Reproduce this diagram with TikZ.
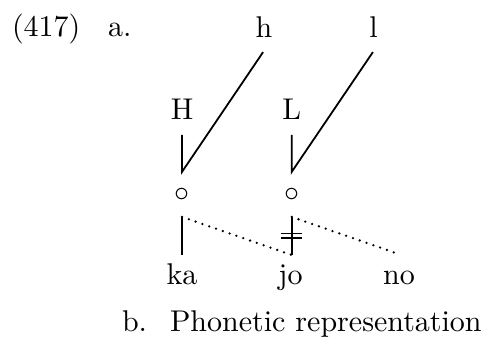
\documentclass[tikz,border=0pt]{standalone}
\begin{document}
\begin{tikzpicture}[x=0.33333pt,y=-0.33333pt,
  lbl/.style={inner sep=0pt,outer sep=0pt,anchor=base},
  assoc/.style={line width=0.6pt},
  delink/.style={line width=0.85pt,dash pattern=on 0pt off 2.4pt,line cap=round},
  bar/.style={line width=0.55pt}]
\useasboundingbox (0,0) rectangle (490,338);
% labels
\node[lbl,anchor=base west] (num) at (12,37) {(417)};
\node[lbl,anchor=base west] (ita) at (108,37) {a.};
\node[lbl] (h) at (264,38) {h};
\node[lbl] (l) at (373.5,38) {l};
\node[lbl] (H) at (182,120) {H};
\node[lbl] (L) at (291.7,120) {L};
\node[inner sep=0pt] (c1) at (182,195) {$\circ$};
\node[inner sep=0pt] (c2) at (291.7,195) {$\circ$};
\node[lbl] (ka) at (182,285) {ka};
\node[lbl] (jo) at (290.5,285) {jo};
\node[lbl] (no) at (399,285) {no};
\node[lbl,anchor=base west] (itb) at (122,332) {b.};
\node[lbl,anchor=base west] (phon) at (170,332) {Phonetic representation};
% associations upper tier
\coordinate (Htop) at ([yshift=-5pt]H.base);
\coordinate (Hbot) at ([yshift=-17.3pt]H.base);
\coordinate (Ltop) at ([yshift=-5pt]L.base);
\coordinate (Lbot) at ([yshift=-17.3pt]L.base);
\coordinate (hend) at ([xshift=-0.3pt,yshift=-4.7pt]h.base);
\coordinate (lend) at ([xshift=-0.2pt,yshift=-4.7pt]l.base);
\draw[assoc] (Htop) -- (Hbot) -- (hend);
\draw[assoc] (Ltop) -- (Lbot) -- (lend);
% lower tier
\coordinate (kt) at ([yshift=-7.3pt]c1.center);
\coordinate (kb) at ([yshift=-20pt]c1.center);
\coordinate (jt) at ([yshift=-7.3pt]c2.center);
\coordinate (jb) at ([yshift=-20pt]c2.center);
\coordinate (nend) at ([xshift=0.33pt,yshift=5.7pt]no.north);
\draw[assoc] (kt) -- (kb);
\draw[assoc] (jt) -- (jb);
\draw[delink] (kt) -- (jb);
\draw[delink] (jt) -- (nend);
\draw[bar] ([xshift=-3.5pt,yshift=-12.8pt]c2.center) -- ([xshift=3.5pt,yshift=-12.8pt]c2.center);
\draw[bar] ([xshift=-3.5pt,yshift=-14.4pt]c2.center) -- ([xshift=3.5pt,yshift=-14.4pt]c2.center);
\end{tikzpicture}
\end{document}
